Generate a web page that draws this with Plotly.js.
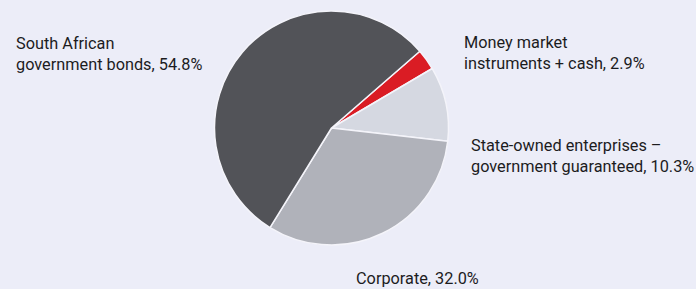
<!DOCTYPE html>
<html>
<head>
<meta charset="utf-8">
<script src="https://cdn.plot.ly/plotly-3.0.1.min.js"></script>
<style>html,body{margin:0;padding:0;background:#ecedf8;}#chart{width:696px;height:289px;}</style>
</head>
<body>
<div id="chart"></div>
<script>
const categories = ["Money market instruments + cash", "State-owned enterprises – government guaranteed", "Corporate", "South African government bonds"];
const shares = [2.9, 10.3, 32.0, 54.8];
const sliceColors = ["#da1c24", "#d5d8e1", "#b0b2ba", "#525358"];
const labelTexts = [
  "Money market<br>instruments + cash, 2.9%",
  "State-owned enterprises –<br>government guaranteed, 10.3%",
  "Corporate, 32.0%",
  "South African<br>government bonds, 54.8%"
];

const W = 696, H = 289;
const labelPos = [[462, 53], [469, 156], [354, 278.5], [14, 54]];

const annotations = labelTexts.map((t, i) => ({
  text: t, xref: "paper", yref: "paper",
  x: labelPos[i][0] / W, y: 1 - labelPos[i][1] / H,
  xanchor: "left", yanchor: "middle", align: "left", showarrow: false,
  font: {family: "Roboto, sans-serif", size: 16.3, color: "#1c1c1e"}
}));

const cx = 331.5, cy = 128, r = 117;
const data = [{
  type: "pie",
  labels: categories,
  values: shares,
  sort: false,
  direction: "clockwise",
  rotation: 49,
  textinfo: "none",
  hoverinfo: "label+percent",
  marker: {colors: sliceColors, line: {color: "#f4f4fa", width: 1.5}},
  domain: {x: [(cx - r) / W, (cx + r) / W], y: [1 - (cy + r) / H, 1 - (cy - r) / H]},
  showlegend: false
}];

const layout = {
  width: W, height: H,
  margin: {l: 0, r: 0, t: 0, b: 0},
  paper_bgcolor: "#ecedf8",
  plot_bgcolor: "#ecedf8",
  showlegend: false,
  annotations: annotations
};

Plotly.newPlot("chart", data, layout, {displayModeBar: false, staticPlot: true});
</script>
</body>
</html>
